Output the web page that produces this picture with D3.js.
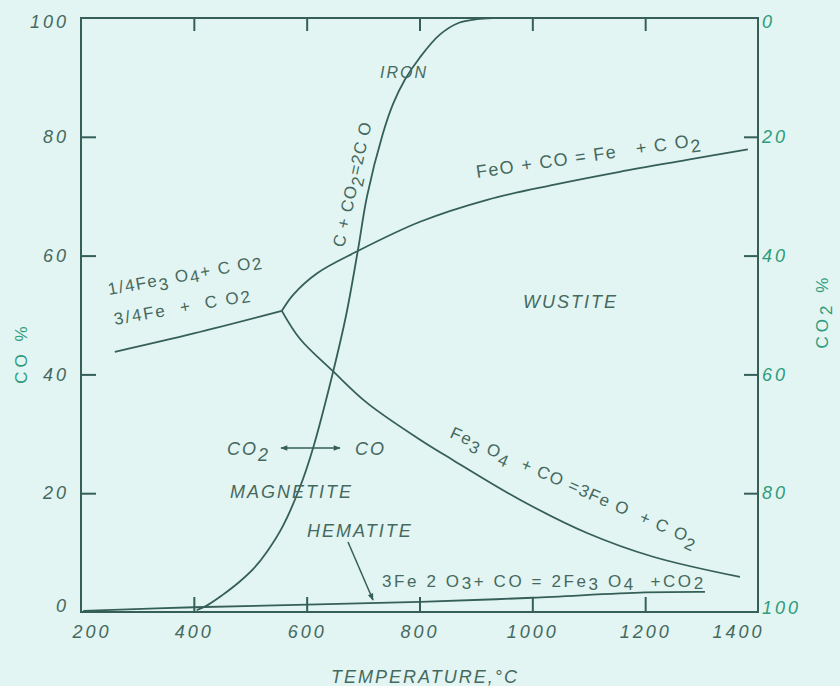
<!DOCTYPE html>
<html><head><meta charset="utf-8">
<script src="https://cdn.jsdelivr.net/npm/d3@7"></script>
<style>
html,body{margin:0;padding:0;background:#e2f5f2;}
svg{display:block;}
</style></head><body>
<svg id="c" width="840" height="686"></svg>
<script>
// ---------- data ----------
const xTicks = [200, 400, 600, 800, 1000, 1200, 1400];
const yTicksCO = [0, 20, 40, 60, 80, 100];
const yTicksCO2 = [0, 20, 40, 60, 80, 100];

// C + CO2 = 2CO (Boudouard)
const boudT  = [405, 425, 450, 480, 505, 530, 558, 588, 611, 647, 670, 691, 707, 735, 753, 774, 801, 836, 870, 902, 930];
const boudCO = [0.3, 1.2, 2.8, 5.0, 7.2, 10.2, 14.5, 21, 27.5, 40.5, 50, 61, 70, 80.5, 85.5, 89.6, 93.4, 97.2, 99.2, 99.8, 100];

// FeO + CO = Fe + CO2
const feoT  = [556, 576, 618, 687, 801, 920, 1037, 1155, 1274, 1382];
const feoCO = [50.7, 53.4, 57, 60.6, 65.7, 69.4, 71.9, 74.1, 76.1, 77.9];

// 1/4Fe3O4 + CO = 3/4Fe + CO2
const magFeT  = [260, 400, 556];
const magFeCO = [43.8, 46.9, 50.7];

// Fe3O4 + CO = 3FeO + CO2
const magWuT  = [556, 588, 647, 707, 801, 859, 978, 1097, 1214, 1368];
const magWuCO = [50.7, 46, 40.5, 35.2, 29, 25.6, 18.9, 13.3, 9.3, 5.9];

// 3Fe2O3 + CO = 2Fe3O4 + CO2
const hemT  = [204, 400, 801, 1000, 1200, 1306];
const hemCO = [0.2, 0.8, 1.7, 2.4, 3.3, 3.4];

// ---------- drawing ----------
const svg = d3.select("#c");
const LINE = "#355f58";
const TXT = "#46695f";
const GREEN = "#2e9c7c";
const FONT = "'Liberation Sans', Arial, sans-serif";

const x = d3.scaleLinear().domain([200, 1400]).range([81, 758]);
const y = d3.scaleLinear().domain([0, 100]).range([612, 18]);
const y2 = d3.scaleLinear().domain([0, 100]).range([18, 612]);

const defs = svg.append("defs");
defs.append("marker").attr("id", "ah").attr("viewBox", "0 0 10 10")
  .attr("refX", 9).attr("refY", 5).attr("markerWidth", 9).attr("markerHeight", 7)
  .attr("markerUnits", "userSpaceOnUse").attr("orient", "auto-start-reverse")
  .append("path").attr("d", "M0,1 L10,5 L0,9 Z").attr("fill", LINE);

// frame
svg.append("rect").attr("x", x(200)).attr("y", y(100))
  .attr("width", x(1400) - x(200)).attr("height", y(0) - y(100))
  .attr("fill", "none").attr("stroke", LINE).attr("stroke-width", 2);

function styleAxis(g, color) {
  g.select(".domain").remove();
  g.selectAll(".tick line").attr("stroke", LINE).attr("stroke-width", 2);
  g.selectAll(".tick text").attr("fill", color).attr("font-family", FONT)
    .attr("font-size", 18).attr("font-style", "italic").attr("letter-spacing", 3);
}

// bottom axis
const gb = svg.append("g").attr("transform", `translate(0,${y(0)})`)
  .call(d3.axisBottom(x).tickValues(xTicks).tickSizeInner(-15).tickSizeOuter(0).tickPadding(13).tickFormat(d3.format("d")));
styleAxis(gb, TXT);
gb.selectAll(".tick text").filter(d => d === 200).attr("text-anchor", "start").attr("dx", -9);
gb.selectAll(".tick text").filter(d => d === 1400).attr("text-anchor", "end").attr("dx", 6);
gb.selectAll(".tick line").filter(d => d === 200 || d === 1400).remove();

// top axis (ticks only)
const gt = svg.append("g").attr("transform", `translate(0,${y(100)})`)
  .call(d3.axisTop(x).tickValues(xTicks.filter(d => d > 200 && d < 1400)).tickSizeInner(-13).tickSizeOuter(0).tickFormat(""));
styleAxis(gt, TXT);

// left axis
const gl = svg.append("g").attr("transform", `translate(${x(200)},0)`)
  .call(d3.axisLeft(y).tickValues(yTicksCO).tickSizeInner(-15).tickSizeOuter(0).tickPadding(12).tickFormat(d3.format("d")));
styleAxis(gl, TXT);
gl.selectAll(".tick line").filter(d => d === 0 || d === 100).remove();
gl.selectAll(".tick text").filter(d => d === 0).attr("dy", "-0.05em");
gl.selectAll(".tick text").filter(d => d === 100).attr("dy", "0.55em");

// right axis (CO2 %)
const gr = svg.append("g").attr("transform", `translate(${x(1400) - 1},0)`)
  .call(d3.axisRight(y2).tickValues(yTicksCO2).tickSizeInner(-13).tickSizeOuter(0).tickPadding(5).tickFormat(d3.format("d")));
styleAxis(gr, GREEN);
gr.selectAll(".tick line").filter(d => d === 0 || d === 100).remove();
gr.selectAll(".tick text").filter(d => d === 100).attr("dy", "0.1em");
gr.selectAll(".tick text").filter(d => d === 0).attr("dy", "0.55em");

// curves
const line = d3.line().x(d => x(d[0])).y(d => y(d[1])).curve(d3.curveCatmullRom.alpha(0.5));
const series = [
  [boudT, boudCO], [feoT, feoCO], [magFeT, magFeCO], [magWuT, magWuCO], [hemT, hemCO]
];
series.forEach(([ts, vs]) => {
  svg.append("path").datum(ts.map((t, i) => [t, vs[i]]))
    .attr("d", line).attr("fill", "none").attr("stroke", LINE).attr("stroke-width", 1.8);
});

// rich text helper: parts = [text, dy-shift]
function rich(px, py, angle, parts, size, opts = {}) {
  const t = svg.append("text")
    .attr("transform", `translate(${px},${py}) rotate(${angle})`)
    .attr("font-family", FONT).attr("font-size", size)
    .attr("fill", opts.fill || TXT)
    .attr("letter-spacing", opts.ls == null ? 2 : opts.ls)
    .attr("font-style", opts.italic ? "italic" : "normal")
    .attr("text-anchor", opts.anchor || "start")
    .style("white-space", "pre");
  let cur = 0;
  parts.forEach(([s, sh]) => {
    t.append("tspan").attr("dy", sh - cur).text(s);
    cur = sh;
  });
  return t;
}

// equation labels
rich(109, 295, -10.4, [["1/4Fe", 0], ["3", 5], [" O", 0], ["4", 3], ["+ C O", 0], ["2", 2]], 17, {ls: 1.5});
rich(115, 325, -10.1, [["3/4Fe  +  C O", 0], ["2", 1]], 17, {ls: 2});
rich(344, 248, -77.5, [["C + CO", 0], ["2", 5], ["=2C O", 0]], 17, {ls: 1});
rich(477, 178, -8.3, [["FeO + CO = Fe   + C O", 0], ["2", 6]], 18, {ls: 1.4});
rich(449, 437, 24, [["Fe", 0], ["3", 5], [" O", 0], ["4", 5], ["  + CO =3Fe O  + C O", 0], ["2", 6]], 17, {ls: 1.4});
rich(382, 587, 0, [["3Fe 2 O", 0], ["3", 2], ["+ CO = 2Fe", 0], ["3", 3], [" O", 0], ["4", 3], ["  +CO", 0], ["2", 2]], 17, {ls: 2.6});

// phase names
rich(523, 308, 0, [["WUSTITE", 0]], 18, {italic: true});
rich(380, 78, 0, [["IRON", 0]], 16, {italic: true});
rich(230, 498, 0, [["MAGNETITE", 0]], 18, {italic: true});
rich(307, 537, 0, [["HEMATITE", 0]], 18, {italic: true});

// CO2 <-> CO
rich(227, 455, 0, [["CO", 0], ["2", 6]], 18, {italic: true});
rich(355, 455, 0, [["CO", 0]], 18, {italic: true});
svg.append("line").attr("x1", 281).attr("y1", 448).attr("x2", 340).attr("y2", 448)
  .attr("stroke", LINE).attr("stroke-width", 1.5)
  .attr("marker-start", "url(#ah)").attr("marker-end", "url(#ah)");

// hematite arrow
svg.append("line").attr("x1", 348).attr("y1", 542).attr("x2", 373).attr("y2", 600)
  .attr("stroke", LINE).attr("stroke-width", 1.5).attr("marker-end", "url(#ah)");

// axis titles
rich(27, 353, -90, [["CO %", 0]], 17, {fill: GREEN, anchor: "middle", ls: 4});
rich(828, 311, -90, [["CO", 0], ["2", 4], [" %", 0]], 17, {fill: GREEN, anchor: "middle", ls: 4});
rich(425, 683, 0, [["TEMPERATURE,°C", 0]], 18, {italic: true, anchor: "middle"});
</script>
</body></html>
